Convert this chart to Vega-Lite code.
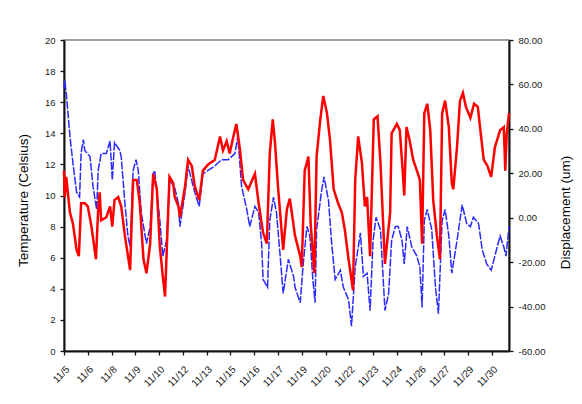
{
  "$schema": "https://vega.github.io/schema/vega-lite/v6.json",
  "width": 445,
  "height": 311,
  "autosize": {"type": "none"},
  "padding": {"left": 64, "top": 40, "right": 73, "bottom": 53},
  "background": "white",
  "config": {
    "font": "Liberation Sans",
    "view": {"stroke": "#808080", "strokeWidth": 1.5},
    "axis": {
      "grid": false,
      "domainColor": "#111111",
      "domainWidth": 2,
      "tickColor": "#111111",
      "tickWidth": 1.3,
      "tickSize": 4,
      "labelFont": "Liberation Sans",
      "labelFontSize": 9.5,
      "labelColor": "#1a1a1a",
      "titleFont": "Liberation Sans",
      "titleFontSize": 13.5,
      "titleFontWeight": "normal",
      "titleColor": "#000000"
    }
  },
  "datasets": {
    "temperature": [
      {"sample":0,"temperature":16.9},{"sample":1,"temperature":17.4},{"sample":3,"temperature":16.6},{"sample":8,"temperature":13.8},{"sample":12,"temperature":12.1},{"sample":17,"temperature":10.2},{"sample":21,"temperature":9.9},{"sample":23,"temperature":12.7},{"sample":26,"temperature":13.6},{"sample":28,"temperature":12.9},{"sample":35,"temperature":12.5},{"sample":39,"temperature":10.6},{"sample":44,"temperature":9.1},{"sample":46,"temperature":11.6},{"sample":50,"temperature":12.7},{"sample":57,"temperature":12.7},{"sample":62,"temperature":13.5},{"sample":65,"temperature":11.0},{"sample":68,"temperature":13.4},{"sample":75,"temperature":12.9},{"sample":77,"temperature":12.5},{"sample":82,"temperature":9.5},{"sample":86,"temperature":7.4},{"sample":89,"temperature":6.7},{"sample":93,"temperature":11.6},{"sample":97,"temperature":12.3},{"sample":100,"temperature":11.6},{"sample":104,"temperature":8.9},{"sample":111,"temperature":6.9},{"sample":116,"temperature":8.0},{"sample":120,"temperature":11.4},{"sample":122,"temperature":11.6},{"sample":129,"temperature":8.4},{"sample":133,"temperature":6.1},{"sample":138,"temperature":7.1},{"sample":142,"temperature":11.0},{"sample":149,"temperature":10.5},{"sample":154,"temperature":9.5},{"sample":156,"temperature":8.0},{"sample":163,"temperature":10.2},{"sample":167,"temperature":11.9},{"sample":176,"temperature":10.2},{"sample":182,"temperature":9.3},{"sample":187,"temperature":11.4},{"sample":203,"temperature":11.9},{"sample":212,"temperature":12.3},{"sample":221,"temperature":12.3},{"sample":230,"temperature":12.7},{"sample":234,"temperature":13.8},{"sample":239,"temperature":10.6},{"sample":246,"temperature":9.1},{"sample":250,"temperature":8.0},{"sample":257,"temperature":9.3},{"sample":262,"temperature":8.9},{"sample":266,"temperature":6.9},{"sample":268,"temperature":4.6},{"sample":274,"temperature":4.1},{"sample":277,"temperature":8.4},{"sample":282,"temperature":9.9},{"sample":286,"temperature":8.9},{"sample":291,"temperature":6.1},{"sample":295,"temperature":3.7},{"sample":302,"temperature":5.9},{"sample":309,"temperature":4.8},{"sample":311,"temperature":4.1},{"sample":318,"temperature":3.1},{"sample":322,"temperature":5.6},{"sample":327,"temperature":8.0},{"sample":331,"temperature":7.4},{"sample":335,"temperature":4.6},{"sample":338,"temperature":3.1},{"sample":340,"temperature":7.8},{"sample":347,"temperature":10.4},{"sample":350,"temperature":11.2},{"sample":356,"temperature":9.7},{"sample":360,"temperature":7.1},{"sample":365,"temperature":4.6},{"sample":372,"temperature":5.2},{"sample":376,"temperature":4.1},{"sample":383,"temperature":3.3},{"sample":387,"temperature":1.6},{"sample":392,"temperature":5.4},{"sample":399,"temperature":7.6},{"sample":403,"temperature":4.8},{"sample":408,"temperature":5.0},{"sample":412,"temperature":2.6},{"sample":416,"temperature":7.1},{"sample":420,"temperature":8.6},{"sample":426,"temperature":7.8},{"sample":432,"temperature":2.6},{"sample":437,"temperature":3.7},{"sample":441,"temperature":7.1},{"sample":446,"temperature":8.0},{"sample":450,"temperature":8.0},{"sample":455,"temperature":7.1},{"sample":458,"temperature":5.6},{"sample":462,"temperature":8.0},{"sample":468,"temperature":6.7},{"sample":475,"temperature":6.1},{"sample":479,"temperature":5.4},{"sample":482,"temperature":2.8},{"sample":485,"temperature":8.4},{"sample":489,"temperature":9.1},{"sample":495,"temperature":7.8},{"sample":500,"temperature":4.1},{"sample":504,"temperature":2.4},{"sample":509,"temperature":8.4},{"sample":513,"temperature":9.1},{"sample":518,"temperature":7.4},{"sample":522,"temperature":5.0},{"sample":529,"temperature":7.1},{"sample":536,"temperature":9.4},{"sample":542,"temperature":8.2},{"sample":547,"temperature":8.0},{"sample":551,"temperature":8.6},{"sample":558,"temperature":8.2},{"sample":563,"temperature":6.5},{"sample":569,"temperature":5.6},{"sample":575,"temperature":5.2},{"sample":581,"temperature":6.3},{"sample":587,"temperature":7.4},{"sample":592,"temperature":6.7},{"sample":595,"temperature":6.1},{"sample":599,"temperature":8.0}
    ],
    "displacement": [
      {"sample":0,"displacement":21.2},{"sample":1,"displacement":9.3},{"sample":3,"displacement":18.4},{"sample":8,"displacement":2.3},{"sample":12,"displacement":-2.6},{"sample":17,"displacement":-14.5},{"sample":20,"displacement":-17.3},{"sample":23,"displacement":6.5},{"sample":28,"displacement":6.5},{"sample":32,"displacement":5.1},{"sample":37,"displacement":-4.0},{"sample":43,"displacement":-18.7},{"sample":46,"displacement":3.7},{"sample":48,"displacement":11.4},{"sample":50,"displacement":-1.2},{"sample":57,"displacement":0.2},{"sample":62,"displacement":5.1},{"sample":65,"displacement":-4.0},{"sample":68,"displacement":7.9},{"sample":73,"displacement":9.3},{"sample":77,"displacement":5.1},{"sample":82,"displacement":-8.2},{"sample":89,"displacement":-23.6},{"sample":93,"displacement":17.0},{"sample":98,"displacement":17.0},{"sample":102,"displacement":6.5},{"sample":107,"displacement":-18.7},{"sample":111,"displacement":-25.0},{"sample":116,"displacement":-11.7},{"sample":120,"displacement":19.8},{"sample":125,"displacement":12.8},{"sample":129,"displacement":-13.1},{"sample":133,"displacement":-26.4},{"sample":136,"displacement":-35.5},{"sample":138,"displacement":-17.3},{"sample":142,"displacement":18.4},{"sample":147,"displacement":15.6},{"sample":149,"displacement":9.3},{"sample":154,"displacement":5.1},{"sample":156,"displacement":0.2},{"sample":163,"displacement":14.2},{"sample":167,"displacement":26.1},{"sample":172,"displacement":23.3},{"sample":176,"displacement":14.2},{"sample":182,"displacement":7.9},{"sample":187,"displacement":21.2},{"sample":194,"displacement":24.0},{"sample":203,"displacement":26.1},{"sample":210,"displacement":36.6},{"sample":214,"displacement":30.3},{"sample":219,"displacement":34.5},{"sample":223,"displacement":28.9},{"sample":228,"displacement":36.6},{"sample":232,"displacement":42.2},{"sample":237,"displacement":30.3},{"sample":241,"displacement":17.0},{"sample":248,"displacement":12.8},{"sample":257,"displacement":19.8},{"sample":262,"displacement":6.5},{"sample":268,"displacement":-6.8},{"sample":273,"displacement":-11.7},{"sample":277,"displacement":28.9},{"sample":281,"displacement":44.3},{"sample":284,"displacement":33.8},{"sample":288,"displacement":14.2},{"sample":295,"displacement":-14.5},{"sample":300,"displacement":3.7},{"sample":304,"displacement":8.6},{"sample":311,"displacement":-8.2},{"sample":318,"displacement":-17.3},{"sample":320,"displacement":-22.2},{"sample":324,"displacement":21.2},{"sample":329,"displacement":27.5},{"sample":332,"displacement":-2.6},{"sample":337,"displacement":-25.0},{"sample":340,"displacement":27.5},{"sample":345,"displacement":44.3},{"sample":349,"displacement":54.8},{"sample":354,"displacement":47.1},{"sample":358,"displacement":35.2},{"sample":363,"displacement":12.8},{"sample":369,"displacement":6.5},{"sample":374,"displacement":2.3},{"sample":378,"displacement":-5.4},{"sample":383,"displacement":-18.7},{"sample":387,"displacement":-27.8},{"sample":389,"displacement":-32.7},{"sample":392,"displacement":17.0},{"sample":396,"displacement":36.6},{"sample":401,"displacement":24.7},{"sample":405,"displacement":5.1},{"sample":408,"displacement":9.3},{"sample":412,"displacement":-17.3},{"sample":417,"displacement":44.3},{"sample":422,"displacement":45.7},{"sample":426,"displacement":24.7},{"sample":432,"displacement":-20.8},{"sample":439,"displacement":2.3},{"sample":441,"displacement":38.0},{"sample":448,"displacement":42.2},{"sample":452,"displacement":39.4},{"sample":456,"displacement":20.5},{"sample":458,"displacement":10.0},{"sample":461,"displacement":40.8},{"sample":465,"displacement":35.2},{"sample":470,"displacement":26.1},{"sample":475,"displacement":21.2},{"sample":479,"displacement":17.0},{"sample":482,"displacement":-11.7},{"sample":485,"displacement":47.1},{"sample":489,"displacement":51.3},{"sample":493,"displacement":39.4},{"sample":497,"displacement":7.9},{"sample":502,"displacement":-8.2},{"sample":506,"displacement":-18.7},{"sample":509,"displacement":47.1},{"sample":513,"displacement":52.7},{"sample":518,"displacement":40.8},{"sample":522,"displacement":15.6},{"sample":524,"displacement":12.8},{"sample":529,"displacement":31.7},{"sample":533,"displacement":52.7},{"sample":537,"displacement":56.2},{"sample":541,"displacement":49.9},{"sample":547,"displacement":45.0},{"sample":552,"displacement":51.3},{"sample":557,"displacement":49.9},{"sample":560,"displacement":40.8},{"sample":565,"displacement":26.1},{"sample":570,"displacement":23.3},{"sample":575,"displacement":18.4},{"sample":580,"displacement":31.7},{"sample":587,"displacement":39.4},{"sample":592,"displacement":40.8},{"sample":594,"displacement":21.2},{"sample":596,"displacement":38.0},{"sample":599,"displacement":47.1}
    ]
  },
  "encoding": {
    "x": {
      "field": "sample",
      "type": "quantitative",
      "scale": {"domain": [0, 599], "nice": false, "zero": false},
      "axis": {
        "title": null,
        "values": [0, 32, 64, 96, 128, 160, 192, 224, 256, 288, 320, 352, 384, 416, 448, 480, 512, 544, 576],
        "labelExpr": "['11/5','11/6','11/8','11/9','11/10','11/12','11/13','11/15','11/16','11/17','11/19','11/20','11/22','11/23','11/24','11/26','11/27','11/29','11/30'][round(datum.value/32)]",
        "labelAngle": -45,
        "labelAlign": "right",
        "labelBaseline": "top",
        "labelFontSize": 10,
        "labelPadding": 9,
        "labelBound": false,
        "labelOverlap": false,
        "tickSize": 4
      }
    }
  },
  "layer": [
    {
      "data": {"name": "temperature"},
      "mark": {"type": "line", "color": "#2a2aff", "strokeWidth": 1.5, "strokeDash": [8, 1.5]},
      "encoding": {
        "y": {
          "field": "temperature",
          "type": "quantitative",
          "scale": {"domain": [0, 20], "nice": false},
          "axis": {
            "title": "Temperature (Celsius)",
            "values": [0, 2, 4, 6, 8, 10, 12, 14, 16, 18, 20],
            "labelPadding": 5,
            "titlePadding": 14,
            "titleY": 160
          }
        }
      }
    },
    {
      "data": {"name": "displacement"},
      "mark": {"type": "line", "color": "#ff0000", "strokeWidth": 2.5},
      "encoding": {
        "y": {
          "field": "displacement",
          "type": "quantitative",
          "scale": {"domain": [-60, 80], "nice": false},
          "axis": {
            "orient": "right",
            "title": "Displacement (um)",
            "titleAngle": 270,
            "values": [-60, -40, -20, 0, 20, 40, 60, 80],
            "labelExpr": "replace(format(datum.value, '.2f'), '\u2212', '-')",
            "labelPadding": 5,
            "titlePadding": 28,
            "titleY": 172
          }
        }
      }
    }
  ],
  "resolve": {"scale": {"y": "independent"}}
}
